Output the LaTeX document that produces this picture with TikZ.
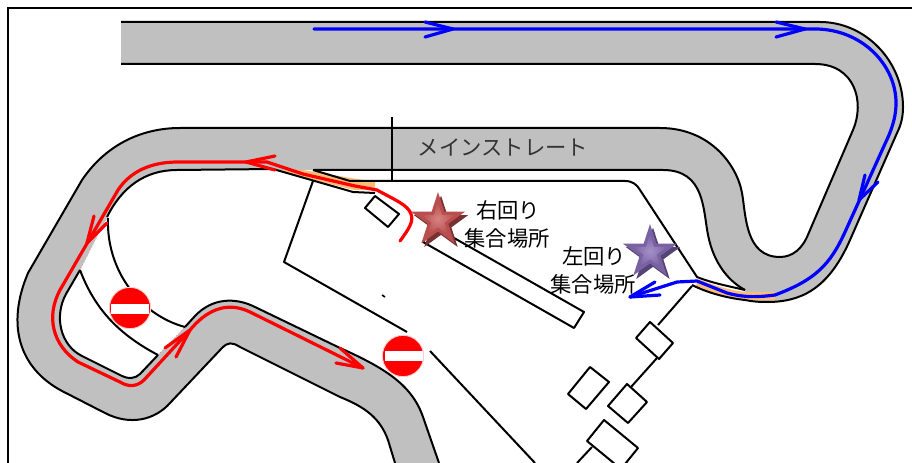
\documentclass[tikz,border=0pt]{standalone}
\usepackage{fontspec}
\newfontfamily\jpfont{Noto Sans CJK JP}
\usetikzlibrary{shapes.geometric}
\definecolor{trackgray}{RGB}{192,192,192}
\definecolor{pitorange}{RGB}{250,190,120}
\definecolor{routeblue}{RGB}{0,0,255}
\definecolor{routered}{RGB}{255,0,0}
\definecolor{starredbase}{RGB}{184,78,78}
\definecolor{starredlight}{RGB}{214,130,130}
\definecolor{starreddark}{RGB}{120,48,48}
\definecolor{starbluebase}{RGB}{122,98,162}
\definecolor{starbluelight}{RGB}{165,145,200}
\definecolor{starbluedark}{RGB}{84,68,118}
\tikzset{
  edgeline/.style={draw=black,line width=1.5pt,line join=round},
  redroute/.style={draw=routered,line width=2.4pt,line join=round,line cap=round},
  blueroute/.style={draw=routeblue,line width=2.4pt,line join=round,line cap=round},
  signdisc/.style={circle,fill=routered,draw=routered!20,line width=.7pt,minimum size=31pt,inner sep=0pt},
  signbar/.style={rectangle,fill=white,minimum width=28.5pt,minimum height=6.8pt,inner sep=0pt},
  starface/.style={star,star points=5,star point ratio=2.618,minimum size=42.6pt,inner sep=0pt},
  starcore/.style={star,star points=5,star point ratio=2.618,minimum size=27pt,inner sep=0pt},
  jlabel/.style={font=\jpfont\fontsize{16}{16}\selectfont,inner sep=0pt,text=black},
}
\newcommand\defseg[3]{%
  \expandafter\def\csname trk#1\endcsname{#2 #3}%
  \expandafter\def\csname jtrk#1\endcsname{-- #2 #3}}
\defseg{A}{(121,22)}{-- (820,22) .. controls (866,22) and (903,62) .. (903,107) .. controls (903,117) and (901,125) .. (897,133) -- (850,240) .. controls (828,290) and (800,302) .. (767,302) .. controls (756,302) and (750,301) .. (745,300)}
\defseg{Ab}{(745,300)}{.. controls (727,298) and (708,293) .. (692,285)}
\defseg{B}{(745,290)}{.. controls (730,282) and (714,265) .. (708,235) .. controls (703,210) and (705,170) .. (663,170)}
\defseg{C}{(177,170)}{.. controls (145,170) and (122,187) .. (107,217)}
\defseg{D}{(80,270)}{-- (66,294) .. controls (54,316) and (60,345) .. (82,356) -- (122,376) .. controls (128,379) and (135,379) .. (140,374) -- (158,355)}
\defseg{E}{(185,327)}{-- (195,316) .. controls (212,298) and (235,297) .. (255,307) -- (340,348) .. controls (385,368) and (412,385) .. (423,417) -- (439,463)}
\defseg{F}{(395,463)}{-- (388,440) .. controls (380,418) and (365,407) .. (340,397) -- (240,347) .. controls (232,342) and (228,342) .. (222,348) -- (170,403) .. controls (155,420) and (130,426) .. (105,413) -- (62,391) .. controls (19,368) and (6,325) .. (28,273) -- (82,180) .. controls (105,146) and (140,128) .. (180,128)}
\defseg{G}{(660,128)}{.. controls (710,128) and (737,165) .. (742,193) .. controls (746,215) and (745,257) .. (780,257) .. controls (793,257) and (802,248) .. (807,237) -- (853,130) .. controls (865,102) and (855,64) .. (815,64) -- (121,64)}
\begin{document}
\begin{tikzpicture}[x=0.75pt,y=-0.75pt]
\useasboundingbox (0,0) rectangle (912,463);
\fill[white] (0,0) rectangle (912,463);
% track surface
\fill[trackgray] \trkA \jtrkB \jtrkC \jtrkD \jtrkE \jtrkF \jtrkG -- cycle;
% pit strip colour
\draw[pitorange,line width=6pt] (697,283) .. controls (715,290) and (735,296) .. (750,296) -- (775,296);
\fill[pitorange] (303,170) -- (375,182) -- (375,190) -- (354,190) -- (274,170) -- cycle;
% faint traces across the pit openings
\draw[routered!55,line width=.5pt,dotted] (107,217) -- (80,270);
\draw[routered!55,line width=.5pt,dotted] (158,355) -- (185,327);
% track edges
\draw[edgeline] \trkA;
\draw[edgeline] \trkAb;
\draw[edgeline] \trkB -- (314,170);
\draw[edgeline] \trkC (177,170) -- (273,169) -- (353,192) -- (375,193);
\draw[edgeline] \trkD;
\draw[edgeline] \trkE;
\draw[edgeline] \trkF -- (660,128);
\draw[edgeline] \trkG;
% wedge and pit building line
\draw[edgeline] (745,290) .. controls (728,286) and (712,283) .. (697,277) -- (640,190) .. controls (637,185) and (633,181) .. (625,181) -- (350,181) -- (313,170);
\draw[edgeline] (392,117) -- (392,181);
% infield boundaries
\draw[edgeline] (313,181) -- (284,262) -- (407,332);
\draw[edgeline] (430,351) -- (535,463);
\draw[edgeline] (108,218) .. controls (106,270) and (140,315) .. (185,327);
\draw[edgeline] (80,270) .. controls (95,310) and (120,335) .. (158,355);
\draw[edgeline,line width=1.2pt] (382,295) -- (385,297);
% buildings
\draw[edgeline,fill=white] (375,196) -- (399,214) -- (388,227) -- (365,208) -- cycle;
\draw[edgeline,fill=white] (423,242) -- (433,226) -- (584,312) -- (574,328) -- cycle;
\draw[edgeline] (692,286) -- (658,325);
\draw[edgeline] (657,358) -- (631,387);
\draw[edgeline] (592,447) -- (577,463);
\draw[edgeline,fill=white] (650,322) -- (673,343) -- (659,359) -- (636,338) -- cycle;
\draw[edgeline,fill=white] (627,384) -- (647,402) -- (628,423) -- (608,406) -- cycle;
\draw[edgeline,fill=white] (590,367) -- (609,382) -- (586,409) -- (568,394) -- cycle;
\draw[edgeline,fill=white] (604,420) -- (638,448) -- (621,469) -- (587,441) -- cycle;
% red route
\draw[redroute] (400,241) .. controls (408,230) and (414,222) .. (411,214) .. controls (408,205) and (395,200) .. (377,190) -- (355,186) -- (303,174) -- (267,162) -- (178,162) .. controls (150,162) and (130,172) .. (118,190) -- (60,290) .. controls (46,316) and (52,345) .. (78,362) -- (120,382) .. controls (128,387) and (137,387) .. (144,380) -- (190,330) .. controls (205,312) and (225,300) .. (250,312) -- (363,368);
\draw[redroute] (275,156) -- (246,162) -- (275,170);
\draw[redroute] (94,216) -- (87,243) -- (107,223);
\draw[redroute] (165,348) -- (190,330) -- (176,357);
\draw[redroute] (340,348) -- (363,368) -- (336,363);
% blue route
\draw[blueroute] (314,29) -- (815,29) .. controls (862,29) and (896,65) .. (896,103) .. controls (896,115) and (893,125) .. (889,135) -- (845,232) .. controls (830,265) and (815,280) .. (775,295) .. controls (760,297) and (745,298) .. (727,293) -- (697,281) -- (677,282) -- (630,297);
\draw[blueroute] (425,22) -- (453,29) -- (425,37);
\draw[blueroute] (776,22) -- (805,29) -- (776,37);
\draw[blueroute] (865,175) -- (859,200) -- (878,182);
\draw[blueroute] (655,282) -- (630,297) -- (660,295);
% no-entry signs
\node[signdisc] (signa) at (130,308) {};
\node[signbar] (bara) at (130,309) {};
\node[signdisc] (signb) at (403,356) {};
\node[signbar] (barb) at (404,356) {};
% stars
\node[starface,fill=starreddark] (starredshade) at (441,224) {};
\node[starface,fill=starredbase] (starred) at (438,220.5) {};
\node[starcore,inner color=starredlight,outer color=starredbase] (starredcore) at (438,220.5) {};
\node[starface,fill=starbluedark] (starblueshade) at (653,256) {};
\node[starface,fill=starbluebase] (starblue) at (650,252.5) {};
\node[starcore,inner color=starbluelight,outer color=starbluebase] (starbluecore) at (650,252.5) {};
% labels
\node[jlabel,text=black!80] (main) at (503,147) {メインストレート};
\node[jlabel] (rt) at (508,210) {右回り};
\node[jlabel] (rb) at (507,238) {集合場所};
\node[jlabel] (lt) at (594,256) {左回り};
\node[jlabel] (lb) at (593,284) {集合場所};
% frame
\draw[black,line width=1.5pt] (8,463) -- (8,8) -- (912,8);
\end{tikzpicture}
\end{document}
